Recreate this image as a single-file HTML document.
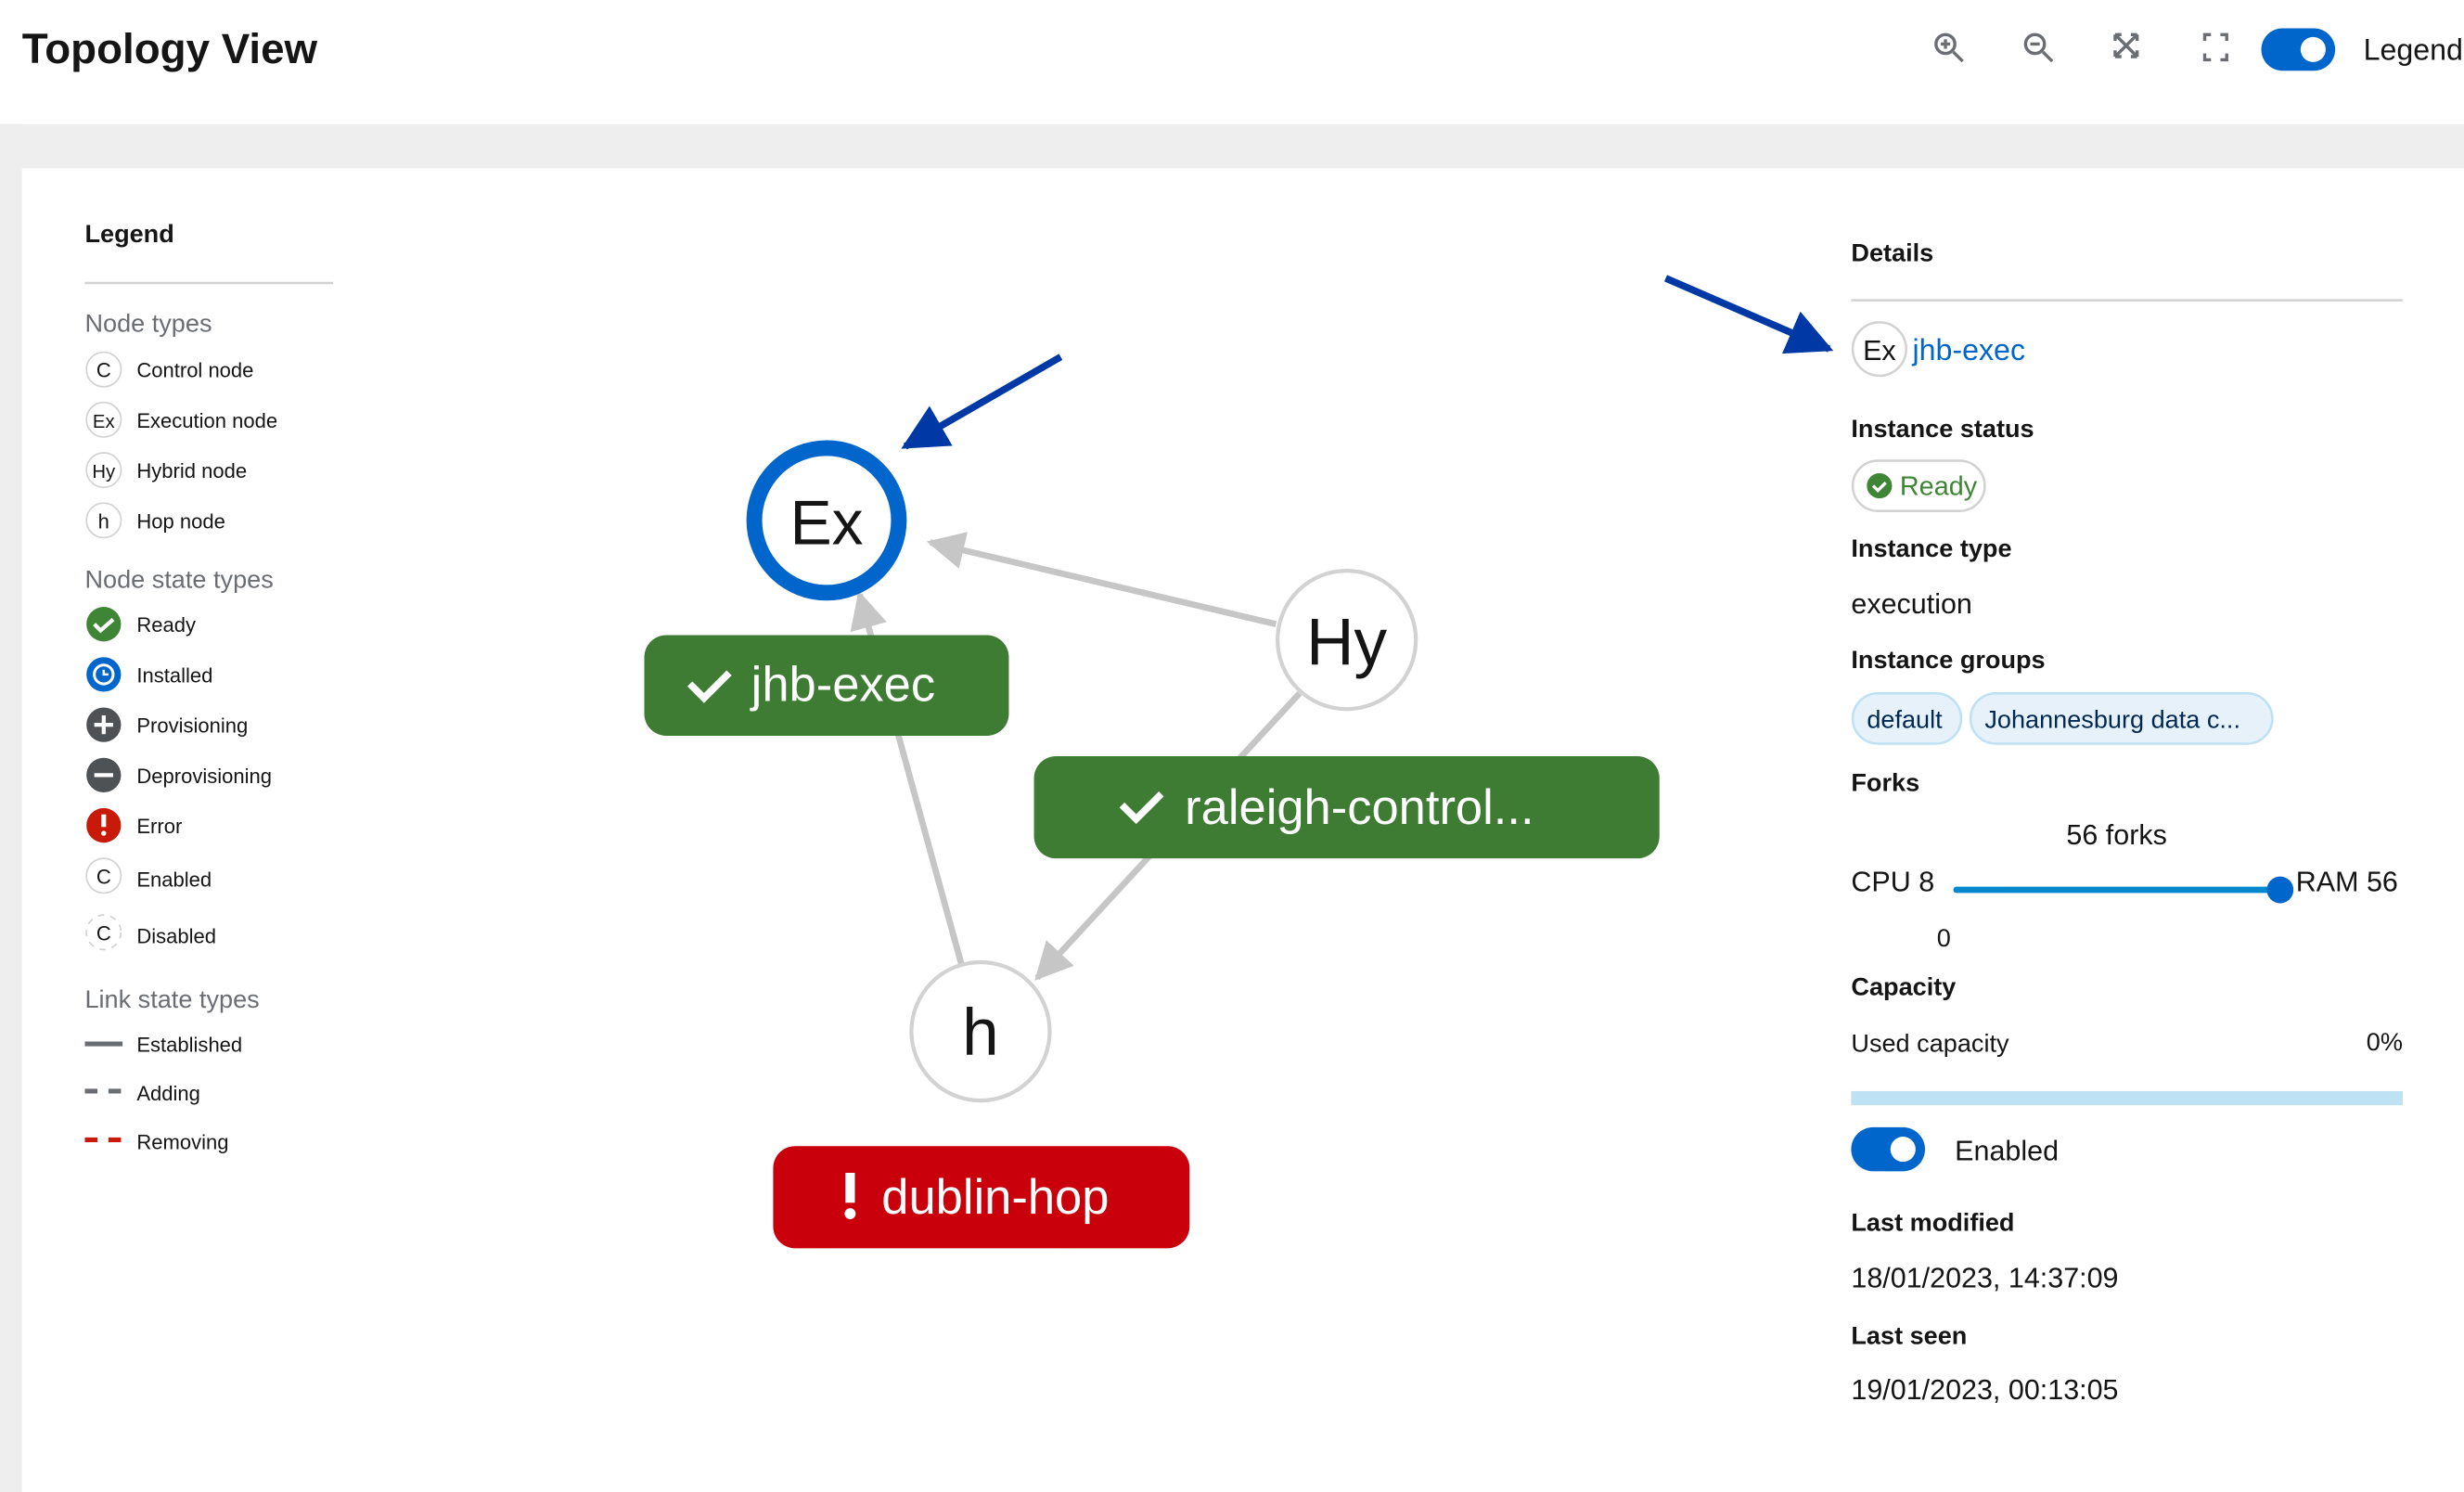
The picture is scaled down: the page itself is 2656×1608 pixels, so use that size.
<!DOCTYPE html>
<html><head><meta charset="utf-8"><style>
html,body{margin:0;padding:0;background:#fff;}
svg{display:block;}
text{font-family:"Liberation Sans",sans-serif;}
</style></head><body>
<svg width="2656" height="1608" viewBox="0 0 1568 949" preserveAspectRatio="none" xmlns="http://www.w3.org/2000/svg">
<defs>
<marker id="ga" viewBox="0 0 10 10" refX="9" refY="5" markerWidth="6" markerHeight="6" orient="auto"><path d="M0,0 L10,5 L0,10 z" fill="#c6c6c6"/></marker>
<marker id="ba" viewBox="0 0 10 10" refX="9" refY="5" markerWidth="6.5" markerHeight="6.5" orient="auto"><path d="M0,0 L10,5 L0,10 z" fill="#0039a6"/></marker>
</defs>
<rect x="0" y="0" width="1568" height="949" fill="#fff"/>
<rect x="0" y="79" width="1568" height="28" fill="#eeeeee"/>
<rect x="0" y="79" width="14" height="870" fill="#eeeeee"/>
<text x="14" y="40" font-size="27" font-weight="bold" fill="#151515">Topology View</text>
<g stroke="#6a6e73" stroke-width="2" fill="none">
<circle cx="1238" cy="28" r="6"/><line x1="1243" y1="33" x2="1249" y2="39"/><line x1="1235" y1="28" x2="1241" y2="28"/><line x1="1238" y1="25" x2="1238" y2="31"/>
<circle cx="1295" cy="28" r="6"/><line x1="1300" y1="33" x2="1306" y2="39"/><line x1="1292" y1="28" x2="1298" y2="28"/>
<path d="M1346 22 L1360 36 M1360 22 L1346 36 M1346 22 h4 M1346 22 v4 M1360 22 h-4 M1360 22 v4 M1346 36 h4 M1346 36 v-4 M1360 36 h-4 M1360 36 v-4"/>
<path d="M1403 26 v-4 h4 M1413 22 h4 v4 M1417 34 v4 h-4 M1407 38 h-4 v-4"/>
</g>
<rect x="1439" y="18" width="47" height="27" rx="13.5" fill="#0066cc"/>
<circle cx="1472" cy="31.5" r="8" fill="#fff"/>
<text x="1504" y="38" font-size="19" fill="#151515">Legend</text>
<text x="54" y="154" font-size="16" font-weight="bold" fill="#151515">Legend</text>
<line x1="54" y1="180" x2="212" y2="180" stroke="#d2d2d2" stroke-width="1.5"/>
<text x="54" y="211" font-size="16" fill="#6a6e73">Node types</text>
<g font-size="13" fill="#151515">
<circle cx="66" cy="235" r="11" fill="#fff" stroke="#d2d2d2"/><text x="66" y="240" text-anchor="middle">C</text><text x="87" y="240">Control node</text>
<circle cx="66" cy="267" r="11" fill="#fff" stroke="#d2d2d2"/><text x="66" y="272" text-anchor="middle" font-size="12">Ex</text><text x="87" y="272">Execution node</text>
<circle cx="66" cy="299" r="11" fill="#fff" stroke="#d2d2d2"/><text x="66" y="304" text-anchor="middle" font-size="12">Hy</text><text x="87" y="304">Hybrid node</text>
<circle cx="66" cy="331" r="11" fill="#fff" stroke="#d2d2d2"/><text x="66" y="336" text-anchor="middle">h</text><text x="87" y="336">Hop node</text>
</g>
<text x="54" y="374" font-size="16" fill="#6a6e73">Node state types</text>
<g font-size="13" fill="#151515">
<circle cx="66" cy="397" r="11" fill="#3e8635"/><path d="M60 397 l4 4 l8 -7" stroke="#fff" stroke-width="2.5" fill="none"/><text x="87" y="402">Ready</text>
<circle cx="66" cy="429" r="11" fill="#0066cc"/><circle cx="66" cy="429" r="6" stroke="#fff" stroke-width="1.8" fill="none"/><path d="M66 426 v3 h3" stroke="#fff" stroke-width="1.5" fill="none"/><text x="87" y="434">Installed</text>
<circle cx="66" cy="461" r="11" fill="#4f5255"/><path d="M60 461 h12 M66 455 v12" stroke="#fff" stroke-width="2.5"/><text x="87" y="466">Provisioning</text>
<circle cx="66" cy="493" r="11" fill="#4f5255"/><path d="M60 493 h12" stroke="#fff" stroke-width="2.5"/><text x="87" y="498">Deprovisioning</text>
<circle cx="66" cy="525" r="11" fill="#c9190b"/><path d="M66 518 v8" stroke="#fff" stroke-width="3"/><circle cx="66" cy="530" r="1.6" fill="#fff"/><text x="87" y="530">Error</text>
<circle cx="66" cy="557" r="11" fill="#fff" stroke="#d2d2d2"/><text x="66" y="562" text-anchor="middle">C</text><text x="87" y="564">Enabled</text>
<circle cx="66" cy="593" r="11" fill="#fff" stroke="#d2d2d2" stroke-dasharray="4 4"/><text x="66" y="598" text-anchor="middle">C</text><text x="87" y="600">Disabled</text>
</g>
<text x="54" y="641" font-size="16" fill="#6a6e73">Link state types</text>
<g font-size="13" fill="#151515">
<line x1="54" y1="664" x2="78" y2="664" stroke="#6a6e73" stroke-width="3"/><text x="87" y="669">Established</text>
<line x1="54" y1="694" x2="78" y2="694" stroke="#6a6e73" stroke-width="3" stroke-dasharray="8 7"/><text x="87" y="700">Adding</text>
<line x1="54" y1="725" x2="78" y2="725" stroke="#c9190b" stroke-width="3" stroke-dasharray="8 7"/><text x="87" y="731">Removing</text>
</g>
<g stroke="#c6c6c6" stroke-width="4" fill="none">
<line x1="812" y1="397" x2="592" y2="345" marker-end="url(#ga)"/>
<line x1="612" y1="614" x2="547" y2="378" marker-end="url(#ga)"/>
<line x1="827" y1="441" x2="660" y2="622" marker-end="url(#ga)"/>
</g>
<circle cx="526" cy="331" r="46" fill="#fff" stroke="#0066cc" stroke-width="10"/>
<text x="526" y="346" font-size="40" text-anchor="middle" fill="#151515">Ex</text>
<circle cx="857" cy="407" r="44" fill="#fff" stroke="#d2d2d2" stroke-width="2.5"/>
<text x="857" y="423" font-size="42" text-anchor="middle" fill="#151515">Hy</text>
<circle cx="624" cy="656" r="44" fill="#fff" stroke="#d2d2d2" stroke-width="2.5"/>
<text x="624" y="671" font-size="42" text-anchor="middle" fill="#151515">h</text>
<rect x="410" y="404" width="232" height="64" rx="14" fill="#3e7c34"/>
<path d="M439 435 l9 9 l16 -16" stroke="#fff" stroke-width="4.5" fill="none"/>
<text x="478" y="446" font-size="31" fill="#fff">jhb-exec</text>
<rect x="658" y="481" width="398" height="65" rx="14" fill="#3e7c34"/>
<path d="M714 512 l9 9 l16 -16" stroke="#fff" stroke-width="4.5" fill="none"/>
<text x="754" y="524" font-size="31" fill="#fff">raleigh-control...</text>
<rect x="492" y="729" width="265" height="65" rx="14" fill="#c9000b"/>
<path d="M541 746 v19" stroke="#fff" stroke-width="6"/><circle cx="541" cy="772" r="3.5" fill="#fff"/>
<text x="561" y="772" font-size="31" fill="#fff">dublin-hop</text>
<line x1="675" y1="227" x2="576" y2="284" stroke="#0039a6" stroke-width="4.5" marker-end="url(#ba)"/>
<line x1="1060" y1="177" x2="1164" y2="222" stroke="#0039a6" stroke-width="4.5" marker-end="url(#ba)"/>
<text x="1178" y="166" font-size="16" font-weight="bold" fill="#151515">Details</text>
<line x1="1178" y1="191" x2="1529" y2="191" stroke="#d2d2d2" stroke-width="1.5"/>
<circle cx="1196" cy="222" r="17" fill="#fff" stroke="#d2d2d2" stroke-width="1.5"/>
<text x="1196" y="229" font-size="18" text-anchor="middle" fill="#151515">Ex</text>
<text x="1217" y="229" font-size="19" fill="#0066cc">jhb-exec</text>
<g font-size="16" font-weight="bold" fill="#151515">
<text x="1178" y="278">Instance status</text>
<text x="1178" y="354">Instance type</text>
<text x="1178" y="425">Instance groups</text>
<text x="1178" y="503">Forks</text>
<text x="1178" y="633">Capacity</text>
<text x="1178" y="783">Last modified</text>
<text x="1178" y="855">Last seen</text>
</g>
<rect x="1179" y="293" width="84" height="32" rx="16" fill="#fff" stroke="#d2d2d2" stroke-width="1.5"/>
<circle cx="1196" cy="309" r="8" fill="#3e8635"/><path d="M1192 309 l3 3 l5 -5" stroke="#fff" stroke-width="2" fill="none"/>
<text x="1209" y="315" font-size="17" fill="#3e8635">Ready</text>
<text x="1178" y="390" font-size="18" fill="#151515">execution</text>
<rect x="1179" y="441" width="69" height="32" rx="16" fill="#e7f1fa" stroke="#bee1f4" stroke-width="1.5"/>
<text x="1188" y="463" font-size="16" fill="#002952">default</text>
<rect x="1254" y="441" width="192" height="32" rx="16" fill="#e7f1fa" stroke="#bee1f4" stroke-width="1.5"/>
<text x="1263" y="463" font-size="16" fill="#002952">Johannesburg data c...</text>
<text x="1347" y="537" font-size="18" text-anchor="middle" fill="#151515">56 forks</text>
<text x="1178" y="567" font-size="18" fill="#151515">CPU 8</text>
<line x1="1245" y1="566" x2="1451" y2="566" stroke="#0088ce" stroke-width="4" stroke-linecap="round"/>
<circle cx="1451" cy="566" r="8.5" fill="#0066cc"/>
<text x="1461" y="567" font-size="18" fill="#151515">RAM 56</text>
<text x="1237" y="602" font-size="16" text-anchor="middle" fill="#151515">0</text>
<text x="1178" y="669" font-size="16" fill="#151515">Used capacity</text>
<text x="1529" y="668" font-size="16" text-anchor="end" fill="#151515">0%</text>
<rect x="1178" y="694" width="351" height="9" fill="#bee1f4"/>
<rect x="1178" y="717" width="47" height="28" rx="14" fill="#0066cc"/>
<circle cx="1211" cy="731" r="8" fill="#fff"/>
<text x="1244" y="738" font-size="18" fill="#151515">Enabled</text>
<text x="1178" y="819" font-size="18" fill="#151515">18/01/2023, 14:37:09</text>
<text x="1178" y="890" font-size="18" fill="#151515">19/01/2023, 00:13:05</text>
</svg>
</body></html>
